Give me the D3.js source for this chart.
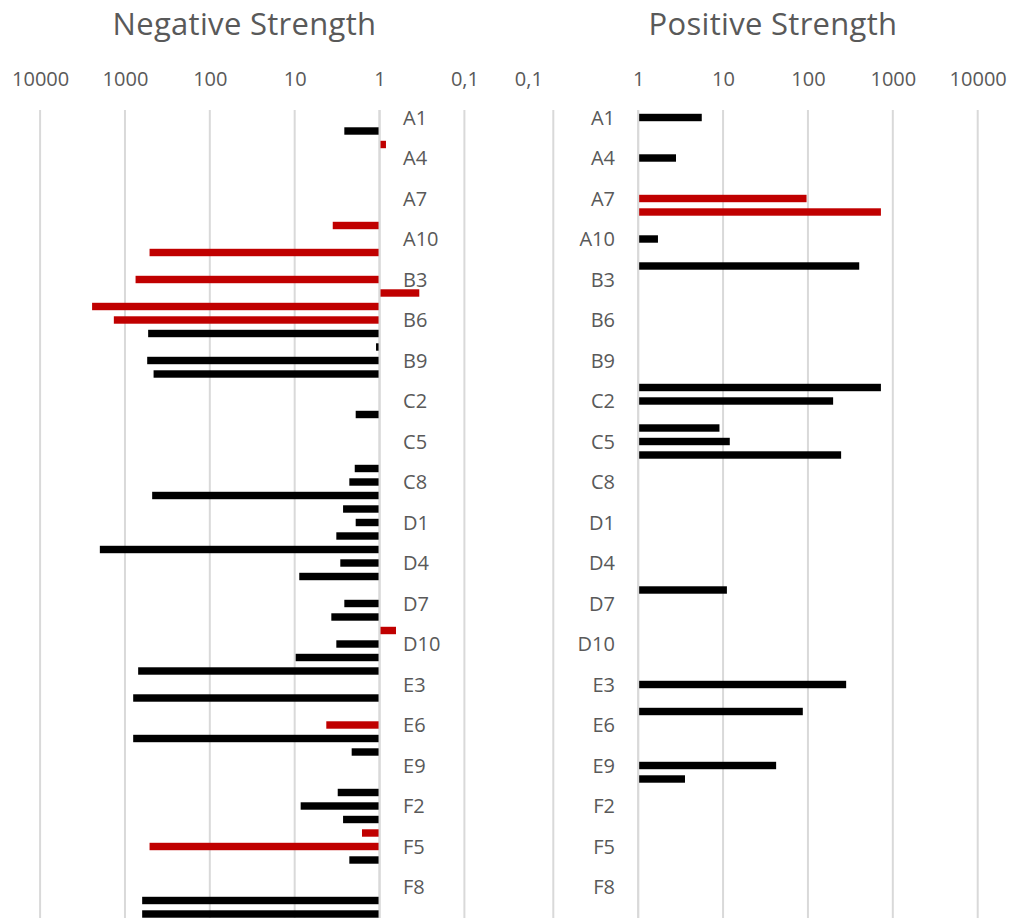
<!DOCTYPE html>
<html>
<head>
<meta charset="utf-8">
<script src="https://cdn.jsdelivr.net/npm/d3@7"></script>
<style>
  html, body { margin: 0; padding: 0; background: #ffffff; }
  svg { display: block; }
  text { font-family: "Open Sans", "Noto Sans", sans-serif; fill: #595959; }
</style>
</head>
<body>
<svg id="chart" width="1014" height="918"></svg>
<script>
// Category labels, top to bottom
const categories = [
  "A1","A2","A3","A4","A5","A6","A7","A8","A9","A10",
  "B1","B2","B3","B4","B5","B6","B7","B8","B9","B10",
  "C1","C2","C3","C4","C5","C6","C7","C8","C9","C10",
  "D1","D2","D3","D4","D5","D6","D7","D8","D9","D10",
  "E1","E2","E3","E4","E5","E6","E7","E8","E9","E10",
  "F1","F2","F3","F4","F5","F6","F7","F8","F9","F10"
];

// Negative strength per category (null = no bar)
const negativeValues = [
  null, 2.6, 0.84, null, null, null, null, null, 3.56, null,
  513, null, 750, 0.34, 2440, 1352, 533, 1.1, 547, 460,
  null, null, 1.91, null, null, null, 1.96, 2.27, 478, 2.69,
  1.91, 3.23, 1977, 2.9, 8.83, null, 2.6, 3.7, 0.64, 3.23,
  9.73, 699, null, 800, null, 4.24, 800, 2.13, null, null,
  3.11, 8.5, 2.69, 1.61, 513, 2.27, null, null, 627, 627
];

// Positive strength per category (null = no bar)
const positiveValues = [
  5.61, null, null, 2.79, null, null, 96.3, 724, null, 1.71,
  null, 402, null, null, null, null, null, null, null, null,
  724, 198, null, 9.07, 12.0, 246, null, null, null, null,
  null, null, null, null, null, 11.1, null, null, null, null,
  null, null, 282, null, 87, null, null, null, 42.2, 3.56,
  null, null, null, null, null, null, null, null, null, null
];

// Categories drawn in the highlight colour
const highlighted = ["A3","A7","A8","A9","B1","B3","B4","B5","B6","D9","E6","F4","F5"];

// Value-axis tick values and titles
const tickValues = [0.1, 1, 10, 100, 1000, 10000];
const panelTitles = ["Negative Strength", "Positive Strength"];

const svg = d3.select("#chart");
const plotTop = 110, plotBottom = 918;

const fmt = v => String(v).replace(".", ",");
const colorOf = c => highlighted.includes(c) ? "#c00000" : "#000000";

const y = d3.scaleBand()
  .domain(categories)
  .range([110.75, 110.75 + 13.5 * categories.length])
  .paddingInner(0.45)
  .paddingOuter(0.225);

const labelCats = categories.filter((c, i) => i % 3 === 0);

const panels = [
  {
    title: panelTitles[0],
    titleX: 244.5,
    values: negativeValues,
    x: d3.scaleLog().domain([10000, 0.1]).range([40.1, 464.4]),
    catAxis: s => d3.axisRight(s),
    catPad: 23.5
  },
  {
    title: panelTitles[1],
    titleX: 773,
    values: positiveValues,
    x: d3.scaleLog().domain([0.1, 10000]).range([553.3, 977.7]),
    catAxis: s => d3.axisLeft(s),
    catPad: 23.2
  }
];

panels.forEach((p, pi) => {
  const g = svg.append("g");
  const x = p.x;

  // vertical gridlines
  g.append("g").selectAll("line")
    .data(tickValues)
    .join("line")
    .attr("x1", d => x(d)).attr("x2", d => x(d))
    .attr("y1", plotTop).attr("y2", plotBottom)
    .attr("stroke", "#d9d9d9")
    .attr("stroke-width", 2);

  // bars from the value 1 baseline
  const rows = categories.map((c, i) => ({ cat: c, v: p.values[i] })).filter(d => d.v != null);
  g.append("g").selectAll("rect")
    .data(rows)
    .join("rect")
    .attr("x", d => Math.min(x(1), x(d.v)))
    .attr("width", d => Math.abs(x(d.v) - x(1)))
    .attr("y", d => y(d.cat))
    .attr("height", y.bandwidth())
    .attr("fill", d => colorOf(d.cat));

  // axis line at 1 on top of bars
  g.append("line")
    .attr("x1", x(1)).attr("x2", x(1))
    .attr("y1", plotTop).attr("y2", plotBottom)
    .attr("stroke", "#d9d9d9")
    .attr("stroke-width", 2);

  // value axis along the top
  const topAxis = g.append("g")
    .attr("transform", "translate(0,89)")
    .call(d3.axisTop(x).tickValues(tickValues).tickFormat(fmt).tickSize(0).tickPadding(3));
  topAxis.select(".domain").remove();
  topAxis.selectAll("text")
    .style("font-family", null)
    .attr("font-size", 20)
    .attr("fill", "#595959")
    .attr("dx", d => (pi === 1 && d === 0.1) ? -25 : 0);

  // category axis at value 1
  const catAxis = g.append("g")
    .attr("transform", `translate(${x(1)},0)`)
    .call(p.catAxis(y).tickValues(labelCats).tickSize(0).tickPadding(p.catPad));
  catAxis.select(".domain").remove();
  catAxis.selectAll("text")
    .style("font-family", null)
    .attr("font-size", 20)
    .attr("fill", "#595959")
    .attr("dy", "0.36em");

  // panel title
  g.append("text")
    .attr("x", p.titleX)
    .attr("y", 35)
    .attr("text-anchor", "middle")
    .attr("font-size", 31)
    .attr("letter-spacing", 0.3)
    .text(p.title);
});
</script>
</body>
</html>
